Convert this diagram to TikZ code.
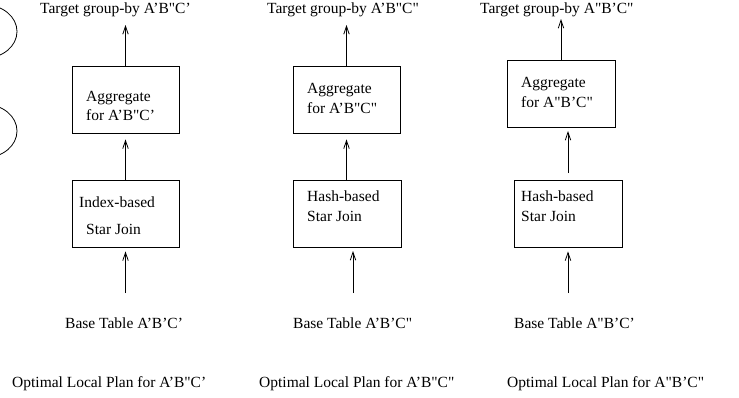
\documentclass[tikz,border=0pt]{standalone}
\usepackage{fontspec}
\newfontfamily\tfam{Liberation Serif}
\usetikzlibrary{arrows.meta}
\begin{document}
\begin{tikzpicture}[x=1pt,y=-1pt,
  box/.style={draw,line width=0.8pt,inner sep=0pt,minimum width=107pt,minimum height=67pt},
  lbl/.style={inner sep=0pt,anchor=base west,font=\tfam\fontsize{15.5}{19}\selectfont},
  arr/.style={line width=0.8pt,-{Straight Barb[length=8pt,width=5.5pt,line width=0.8pt]}}]
\useasboundingbox (0,0) rectangle (739,397);
% partial ellipses at left edge
\begin{scope}
\clip (0,0) rectangle (739,397);
\draw[line width=0.8pt] (-15,31.5) ellipse [x radius=32, y radius=26.6];
\draw[line width=0.8pt] (-15,131) ellipse [x radius=32, y radius=26.6];
\end{scope}
% ---------- column 1 ----------
\node[lbl] (tgt1) at (40,13) {Target group-by A’B"C’};
\node[box] (agg1) at (125.5,99.5) {};
\node[lbl] (agg1a) at (86,101) {Aggregate};
\node[lbl] (agg1b) at (86,120) {for A’B"C’};
\node[box] (join1) at (125.5,213.5) {};
\node[lbl] (join1a) at (79,207) {Index-based};
\node[lbl] (join1b) at (86,234) {Star Join};
\node[lbl] (base1) at (65,328) {Base Table A’B’C’};
\node[lbl] (plan1) at (12,387) {Optimal Local Plan for A’B"C’};
\coordinate (t1) at (125.5,25);
\coordinate (s1) at (125.5,293);
\draw[arr] (agg1.north) -- (t1);
\draw[arr] (join1.north) -- ([yshift=-6pt]agg1.south);
\draw[arr] (s1) -- ([yshift=-4pt]join1.south);
% ---------- column 2 ----------
\node[lbl] (tgt2) at (267,13) {Target group-by A’B"C"};
\node[box] (agg2) at (346.5,99.5) {};
\node[lbl] (agg2a) at (307,93) {Aggregate};
\node[lbl] (agg2b) at (307,113) {for A’B"C"};
\node[box,minimum width=108pt] (join2) at (347,213.5) {};
\node[lbl] (join2a) at (307,201) {Hash-based};
\node[lbl] (join2b) at (307,221) {Star Join};
\node[lbl] (base2) at (293,328) {Base Table A’B’C"};
\node[lbl] (plan2) at (259,387) {Optimal Local Plan for A’B"C"};
\coordinate (t2) at (346.5,25);
\coordinate (s2) at (353,293);
\coordinate (e2) at (353,251);
\draw[arr] (agg2.north) -- (t2);
\draw[arr] (join2.north -| agg2.north) -- ([yshift=-6pt]agg2.south);
\draw[arr] (s2) -- (e2);
% ---------- column 3 ----------
\node[lbl] (tgt3) at (480,13) {Target group-by A"B’C"};
\node[box,minimum width=108pt] (agg3) at (561,93.5) {};
\node[lbl] (agg3a) at (521,87) {Aggregate};
\node[lbl] (agg3b) at (521,107) {for A"B’C"};
\node[box,minimum width=108pt] (join3) at (568,213.5) {};
\node[lbl] (join3a) at (521,201) {Hash-based};
\node[lbl] (join3b) at (521,221) {Star Join};
\node[lbl] (base3) at (514,328) {Base Table A"B’C’};
\node[lbl] (plan3) at (507,387) {Optimal Local Plan for A"B’C"};
\coordinate (t3) at (561,19);
\coordinate (m3) at (568,173);
\coordinate (e3) at (568,131);
\coordinate (s3) at (568,293);
\draw[arr] (agg3.north) -- (t3);
\draw[arr] (m3) -- (e3);
\draw[arr] (s3) -- ([yshift=-4pt]join3.south);
\end{tikzpicture}
\end{document}
